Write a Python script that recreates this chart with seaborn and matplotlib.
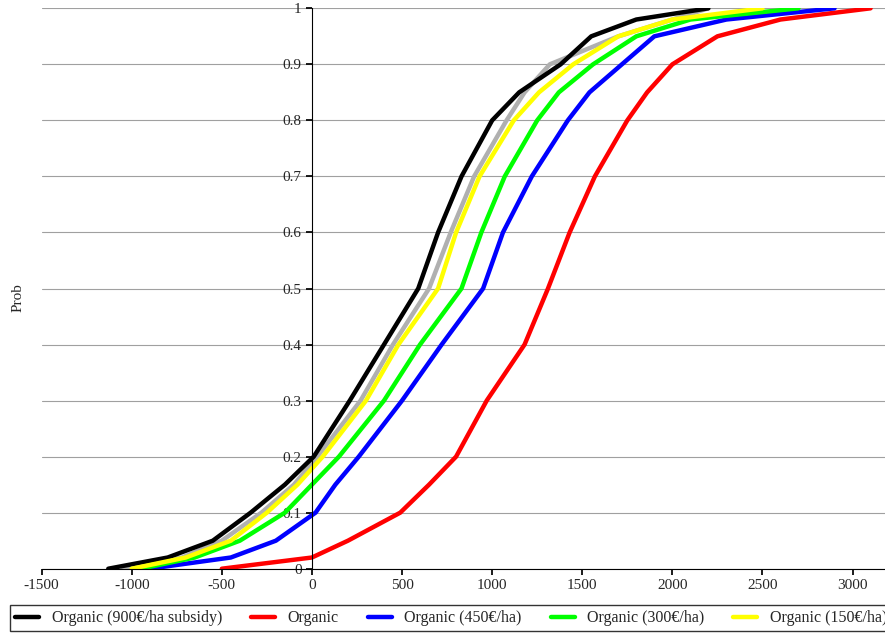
import matplotlib
matplotlib.use("Agg")
import matplotlib.pyplot as plt
import pandas as pd
import seaborn as sns

# cumulative probability levels and the matching values
probs = [0, 0.02, 0.05, 0.1, 0.15, 0.2, 0.3, 0.4, 0.5, 0.6, 0.7, 0.8, 0.85, 0.9, 0.95, 0.98, 1.0]
organic_900 = [-1130, -800, -550, -340, -150, 10, 210, 400, 590, 700, 830, 1000, 1150, 1380, 1550, 1800, 2200]
organic = [-500, 0, 200, 490, 650, 800, 970, 1180, 1310, 1430, 1570, 1750, 1860, 2000, 2250, 2600, 3100]
organic_450 = [-900, -450, -200, 20, 130, 260, 500, 720, 950, 1060, 1220, 1420, 1540, 1720, 1900, 2300, 2900]
organic_300 = [-950, -650, -400, -150, 0, 150, 400, 600, 830, 940, 1070, 1250, 1370, 1560, 1800, 2100, 2700]
organic_150 = [-1000, -700, -450, -250, -80, 60, 300, 480, 700, 800, 930, 1120, 1260, 1450, 1700, 2000, 2500]
organic_gray = [-1050, -720, -500, -280, -100, 30, 270, 450, 650, 770, 900, 1080, 1180, 1320, 1700, 2000, 2200]

series = [
    ("Organic (900€/ha subsidy)", organic_900, "black"),
    ("Organic", organic, "#ff0000"),
    ("Organic (450€/ha)", organic_450, "#0000ff"),
    ("Organic (300€/ha)", organic_300, "#00ff00"),
    ("Organic (150€/ha)", organic_150, "#ffff00"),
    ("_gray", organic_gray, "#b0b0b0"),
]

sns.set_theme(style="white")
plt.rcParams["font.family"] = ["Liberation Serif", "DejaVu Serif"]
plt.rcParams["axes.unicode_minus"] = False

fig = plt.figure(figsize=(8.85, 6.39), dpi=100)
ax = fig.add_axes([0.047, 0.11, 0.953, 0.877])

# gray first so it sits under the coloured curves
for name, vals, col in [series[-1]] + series[:-1]:
    df = pd.DataFrame({"x": vals, "p": probs})
    sns.lineplot(data=df, x="x", y="p", ax=ax, color=col, lw=3.2,
                 label=name, sort=False)

ax.set_xlim(-1500, 3180)
ax.set_ylim(0, 1)
ax.set_xticks(range(-1500, 3001, 500))
ax.set_yticks([i / 10 for i in range(11)])
ax.set_yticklabels(["0"] + [f"{i/10:g}" for i in range(1, 10)] + ["1"])
ax.yaxis.grid(True, color="#a0a0a0", lw=0.8)
ax.set_axisbelow(True)
ax.spines["left"].set_position(("data", 0))
for s in ["top", "right"]:
    ax.spines[s].set_visible(False)
for s in ["left", "bottom"]:
    ax.spines[s].set_color("black")
    ax.spines[s].set_linewidth(0.8)
ax.tick_params(axis="both", labelsize=11, length=4, direction="out",
               left=True, bottom=True, color="black")
ax.set_xlabel("")
ax.set_ylabel("")
fig.text(0.013, 0.535, "Prob", rotation=90, va="center", fontsize=11)

handles, labels = ax.get_legend_handles_labels()
keep = [(h, l) for h, l in zip(handles, labels) if not l.startswith("_")]
fig.legend([h for h, _ in keep], [l for _, l in keep], loc="lower center",
           bbox_to_anchor=(0.51, 0.0), ncol=5, fontsize=11.5, frameon=True,
           fancybox=False, edgecolor="black", handlelength=1.5,
           columnspacing=1.8, borderpad=0.3)
ax.get_legend().remove()

fig.savefig("out.png", dpi=100)
